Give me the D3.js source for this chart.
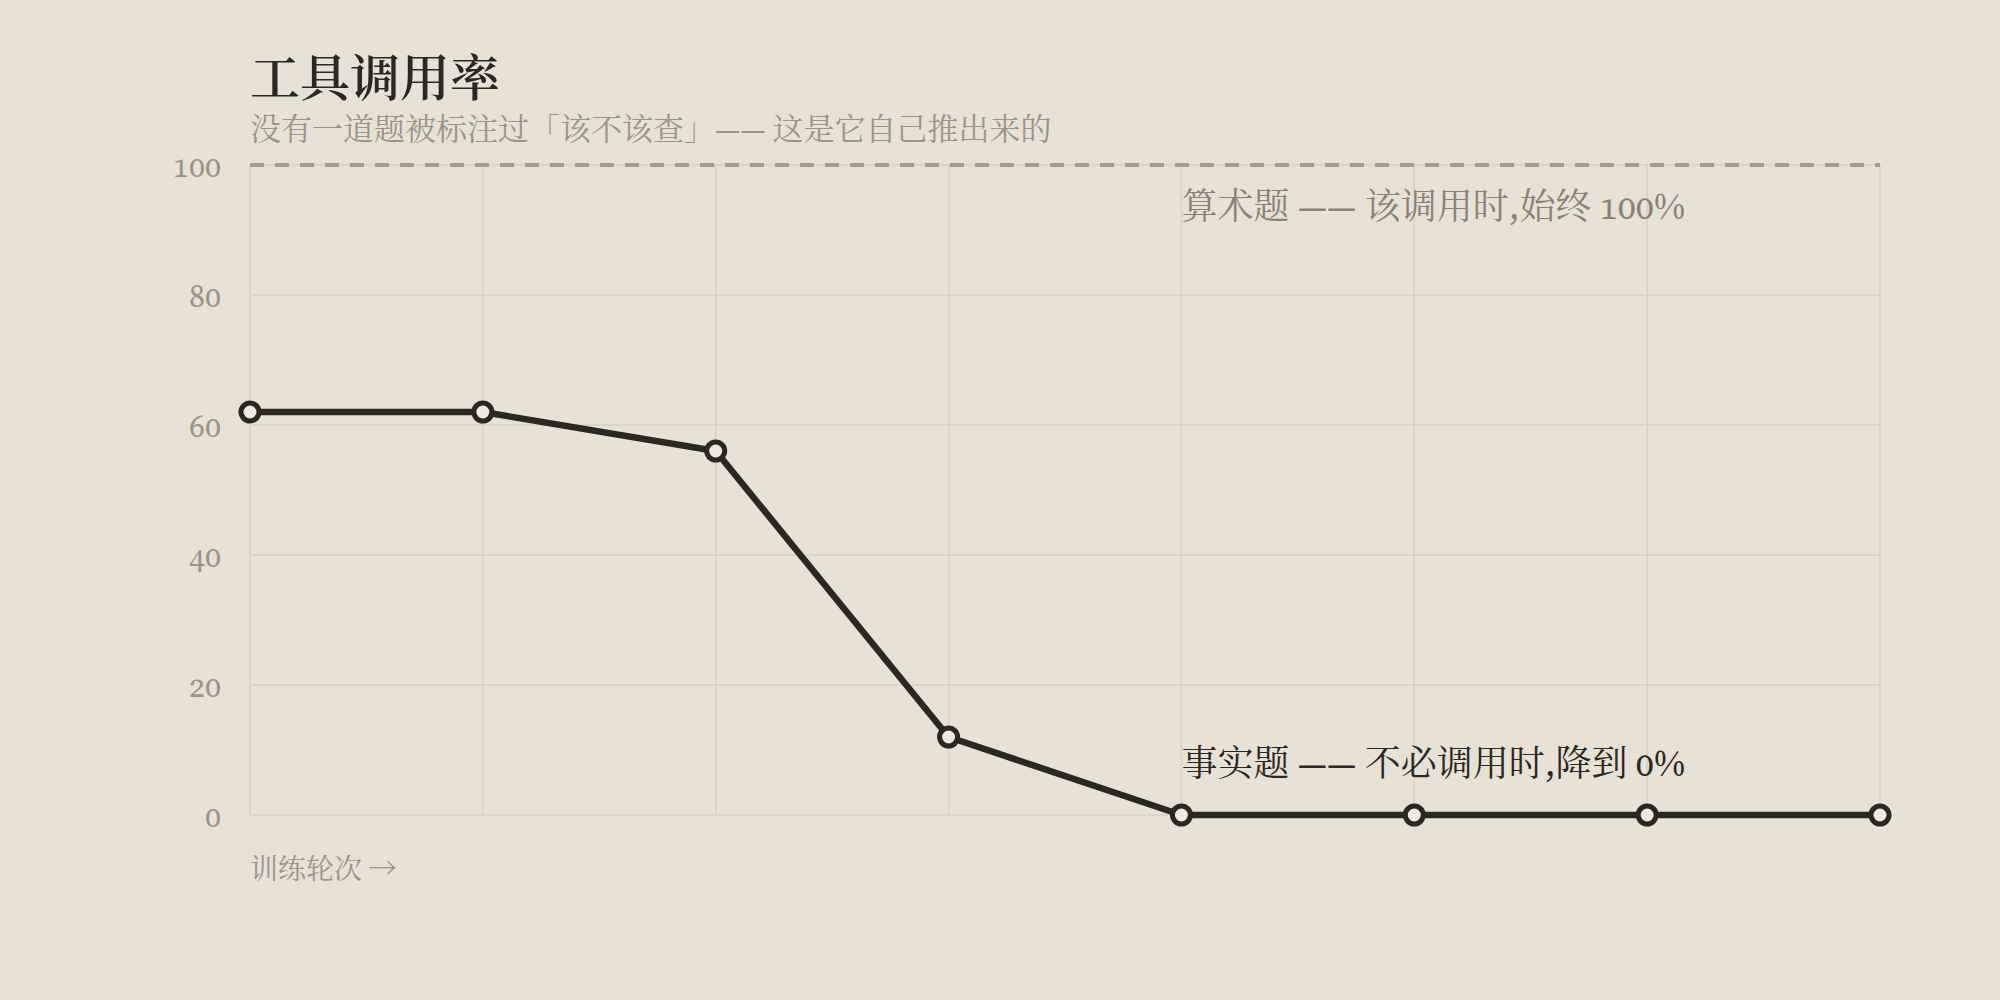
<!DOCTYPE html>
<html>
<head>
<meta charset="utf-8">
<script src="https://cdn.jsdelivr.net/npm/d3@7"></script>
<style>
  html, body { margin: 0; padding: 0; background: #e8e2d6; }
  svg text { font-family: "Source Serif 4", "Noto Serif CJK SC", serif; font-variant-numeric: oldstyle-nums; }
</style>
</head>
<body>
<svg id="chart" width="2000" height="1000"></svg>
<script>
// ---- data ----
const rounds = [1, 2, 3, 4, 5, 6, 7, 8];
const factualRate = [62, 62, 56, 12, 0, 0, 0, 0];
const arithmeticRate = [100, 100, 100, 100, 100, 100, 100, 100];
const yTicks = [0, 20, 40, 60, 80, 100];
const titleText = "工具调用率";
const subtitleText = "没有一道题被标注过「该不该查」—— 这是它自己推出来的";
const arithLabel = "算术题 —— 该调用时,始终 100%";
const factLabel = "事实题 —— 不必调用时,降到 0%";
const xAxisLabel = "训练轮次";
const xAxisArrow = "→";

(function () {
// ---- layout ----
const svg = d3.select("#chart");
const W = 2000, H = 1000;
const mLeft = 250, mRight = 1880, mTop = 165, mBottom = 815;

svg.append("rect").attr("width", W).attr("height", H).attr("fill", "#e8e2d6");

const x = d3.scaleLinear().domain([rounds[0], rounds[rounds.length - 1]]).range([mLeft, mRight]);
const y = d3.scaleLinear().domain([0, 100]).range([mBottom, mTop]);

const gridColor = "#d7d0c3";

// horizontal grid
svg.append("g").selectAll("line").data(yTicks).join("line")
  .attr("x1", mLeft).attr("x2", mRight)
  .attr("y1", d => y(d)).attr("y2", d => y(d))
  .attr("stroke", gridColor).attr("stroke-width", 1.5);

// vertical grid
svg.append("g").selectAll("line").data(rounds).join("line")
  .attr("x1", d => x(d)).attr("x2", d => x(d))
  .attr("y1", mTop).attr("y2", mBottom)
  .attr("stroke", gridColor).attr("stroke-width", 1.5);

// y axis tick labels
const yAxis = d3.axisLeft(y).tickValues(yTicks).tickSize(0).tickPadding(29);
const gy = svg.append("g").attr("transform", `translate(${mLeft},0)`).call(yAxis);
gy.select(".domain").remove();
gy.selectAll("text")
  .attr("fill", "#9b9488")
  .attr("font-size", 32)
  .attr("dy", "0.35em")
  .attr("font-family", null);

// arithmetic series (dashed at 100)
const line = d3.line().x((d, i) => x(rounds[i])).y(d => y(d));
svg.append("path")
  .datum(arithmeticRate)
  .attr("d", line)
  .attr("fill", "none")
  .attr("stroke", "#a39d91")
  .attr("stroke-width", 4)
  .attr("stroke-dasharray", "14 11");

// factual series
svg.append("path")
  .datum(factualRate)
  .attr("d", line)
  .attr("fill", "none")
  .attr("stroke", "#2b2721")
  .attr("stroke-width", 6.5)
  .attr("stroke-linejoin", "round");

svg.append("g").selectAll("circle").data(factualRate).join("circle")
  .attr("cx", (d, i) => x(rounds[i]))
  .attr("cy", d => y(d))
  .attr("r", 9)
  .attr("fill", "#efe9de")
  .attr("stroke", "#2b2721")
  .attr("stroke-width", 5);

// titles
svg.append("text").attr("x", mLeft).attr("y", 96)
  .attr("font-size", 50).attr("font-weight", 600).attr("fill", "#2b2721").text(titleText);
svg.append("text").attr("x", mLeft).attr("y", 140)
  .attr("font-size", 31).attr("fill", "#9b9488").text(subtitleText);

// annotations
svg.append("text").attr("x", x(rounds[4])).attr("y", y(arithmeticRate[4]) + 54)
  .attr("font-size", 36).attr("fill", "#8a8276").text(arithLabel);
svg.append("text").attr("x", x(rounds[4])).attr("y", y(factualRate[4]) - 39)
  .attr("font-size", 36).attr("fill", "#2b2721").text(factLabel);

// x axis label
const xl = svg.append("text").attr("x", mLeft).attr("y", 879)
  .attr("font-size", 28).attr("fill", "#9b9488").text(xAxisLabel + " ");
xl.append("tspan").style("font-family", '"Noto Serif CJK SC", serif').text(xAxisArrow);
})();
</script>
</body>
</html>
